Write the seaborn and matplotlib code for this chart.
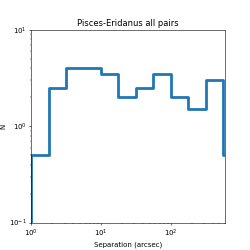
import numpy as np
import pandas as pd
import matplotlib
matplotlib.use("Agg")
import matplotlib.pyplot as plt
import seaborn as sns

# bin edges in log10(arcsec), 0.25 dex bins
log_edges = [0.0, 0.25, 0.5, 0.75, 1.0, 1.25, 1.5, 1.75, 2.0, 2.25, 2.5, 2.75, 3.0]
counts = [0.5, 2.5, 4.0, 4.0, 3.5, 2.0, 2.5, 3.5, 2.0, 1.5, 3.0, 0.5]

edges = 10 ** np.array(log_edges)
# steps-pre: first point sits at the floor so the outline rises from the axis
df = pd.DataFrame({"sep": edges, "N": [1e-3] + counts})

sns.set_style("ticks", {"axes.edgecolor": "black", "text.color": "black",
                        "axes.labelcolor": "black", "xtick.color": "black",
                        "ytick.color": "black"})
fig, ax = plt.subplots(figsize=(5, 5), dpi=50)
sns.lineplot(data=df, x="sep", y="N", drawstyle="steps-pre",
             color="#1f77b4", linewidth=4, ax=ax)
ax.set_xscale("log")
ax.set_yscale("log")
ax.set_xlim(1, 600)
ax.set_ylim(0.1, 10)
ax.set_xlabel("Separation (arcsec)")
ax.set_ylabel("N")
ax.set_title("Pisces-Eridanus all pairs")
fig.savefig("out.png", dpi=50)
